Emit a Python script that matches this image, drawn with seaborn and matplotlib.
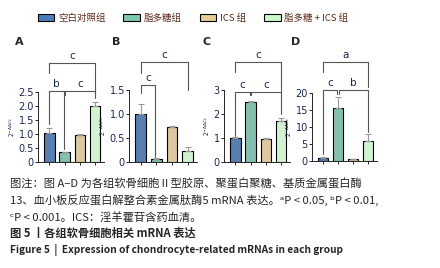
import matplotlib
matplotlib.use("Agg")
import matplotlib.pyplot as plt
import numpy as np
import pandas as pd
import seaborn as sns
from matplotlib.patches import Patch

# --- data ---
GROUPS = ["空白对照组", "脂多糖组", "ICS 组", "脂多糖 + ICS 组"]
COLORS = ["#4a7ebb", "#7cc8b0", "#e6cd96", "#ccf9cc"]
PANELS = ["A", "B", "C", "D"]

MEANS = {
    "A": [1.02, 0.35, 0.98, 2.00],
    "B": [1.00, 0.06, 0.72, 0.22],
    "C": [1.00, 2.48, 0.97, 1.72],
    "D": [0.80, 15.6, 0.50, 6.00],
}
SDS = {
    "A": [0.18, 0.02, 0.03, 0.15],
    "B": [0.20, 0.02, 0.03, 0.10],
    "C": [0.04, 0.05, 0.01, 0.12],
    "D": [0.30, 3.20, 0.20, 1.80],
}
YMAX = {"A": 2.5, "B": 1.5, "C": 3, "D": 20}
YTICKS = {
    "A": [0, 0.5, 1.0, 1.5, 2.0, 2.5],
    "B": [0, 0.5, 1.0, 1.5],
    "C": [0, 1, 2, 3],
    "D": [0, 5, 10, 15, 20],
}
YTICKLABELS = {
    "A": ["0", "0.5", "1.0", "1.5", "2.0", "2.5"],
    "B": ["0", "0.5", "1.0", "1.5"],
    "C": ["0", "1", "2", "3"],
    "D": ["0", "5", "10", "15", "20"],
}
# brackets: (i, j, height, left leg end, right leg end, label)
BRACKETS = {
    "A": [(0, 1, 2.52, 1.35, 0.45, "b"), (1, 3, 2.52, 2.40, 2.30, "c"),
          (0, 3, 3.52, 3.17, 2.45, "c")],
    "B": [(0, 1, 1.60, 1.43, 0.10, "c"), (0, 3, 2.08, 1.85, 1.51, "c")],
    "C": [(0, 1, 2.93, 1.10, 2.80, "c"), (1, 3, 2.93, 2.80, 2.00, "c"),
          (0, 3, 4.18, 3.76, 2.93, "c")],
    "D": [(0, 1, 20.9, 2.0, 19.8, "c"), (1, 3, 20.9, 19.8, 8.5, "b"),
          (0, 3, 29.2, 26.3, 21.9, "a")],
}

CAPTION = [
    ("图注：图 A–D 为各组软骨细胞Ⅱ型胶原、聚蛋白聚糖、基质金属蛋白酶", "normal", 8.1),
    ("13、血小板反应蛋白解整合素金属肽酶5 mRNA 表达。ᵃP < 0.05, ᵇP < 0.01,", "normal", 8.1),
    ("ᶜP < 0.001。ICS：淫羊藿苷含药血清。", "normal", 8.1),
    ("图 5 丨各组软骨细胞相关 mRNA 表达", "bold", 8.1),
    ("Figure 5  |  Expression of chondrocyte-related mRNAs in each group", "bold", 7.3),
]

# axes boxes in pixels: left, right, top(ymax), bottom(0)
AX_PX = {"A": (38, 104, 92, 162), "B": (129, 197, 90, 162),
         "C": (224, 290, 90, 162), "D": (312, 377, 93, 161)}
LABEL_X = {"A": 15, "B": 112, "C": 202, "D": 291}

W, H = 440, 268
FONTS = ["Noto Sans CJK SC", "DejaVu Sans"]
NAVY = "#1b2552"

sns.set_style("ticks")
plt.rcParams["font.family"] = FONTS

fig = plt.figure(figsize=(W / 100, H / 100), dpi=100)

for p in PANELS:
    l, r, t, b = AX_PX[p]
    ax = fig.add_axes([l / W, (H - b) / H, (r - l) / W, (b - t) / H])
    df = pd.DataFrame({"group": GROUPS, "value": MEANS[p]})
    sns.barplot(data=df, x="group", y="value", hue="group", palette=COLORS,
                width=0.68, edgecolor="black", linewidth=0.8, legend=False, ax=ax)
    x = np.arange(4)
    ax.errorbar(x, MEANS[p], yerr=[np.zeros(4), SDS[p]], fmt="none",
                ecolor="#999999", elinewidth=0.8, capsize=2, capthick=0.8)
    ax.set_xlim(-0.75, 3.6)
    ax.set_ylim(0, YMAX[p])
    ax.set_yticks(YTICKS[p])
    ax.set_yticklabels(YTICKLABELS[p], fontsize=7, color=NAVY, family="DejaVu Sans")
    ax.set_xticks(x)
    ax.set_xticklabels([])
    ax.set_xlabel("")
    ax.set_ylabel("2$^{-ΔΔCt}$", fontsize=4.5, labelpad=1, color=NAVY)
    ax.tick_params(length=2, width=0.7, pad=1)
    for s in ["top", "right"]:
        ax.spines[s].set_visible(False)
    for s in ["left", "bottom"]:
        ax.spines[s].set_linewidth(0.7)

    for i, j, h, li, lj, lab in BRACKETS[p]:
        xi = i + (0.06 if i == 1 else 0)
        xj = j - (0.06 if j == 1 else 0)
        ax.plot([xi, xi, xj, xj], [li, h, h, lj], color="#555555", lw=0.8,
                clip_on=False)
        ax.text((xi + xj) / 2, h + YMAX[p] * 0.03, lab, ha="center", va="bottom",
                fontsize=7.5, color=NAVY, family="DejaVu Sans")

    fig.text(LABEL_X[p] / W, (H - 42) / H, p, fontsize=8, fontweight="bold",
             ha="left", va="center", family="DejaVu Sans")

handles = [Patch(facecolor=c, edgecolor="black", linewidth=0.8) for c in COLORS]
fig.legend(handles, GROUPS, loc="center", bbox_to_anchor=(193 / W, (H - 18) / H),
           ncol=4, frameon=False, fontsize=6.8, handlelength=1.75, handleheight=0.8,
           handletextpad=0.4, columnspacing=1.9, labelcolor="#5a2a1a")

for k, (line, weight, size) in enumerate(CAPTION):
    fig.text(10 / W, (H - 184 - k * 16.5) / H, line, fontsize=size,
             fontweight=weight, ha="left", va="center", family=FONTS)

fig.savefig("out.png", dpi=100)
